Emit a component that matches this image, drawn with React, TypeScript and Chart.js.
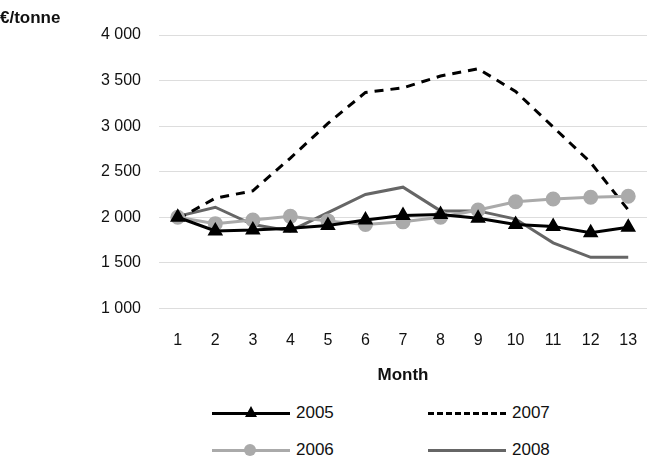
import React, { useRef, useEffect } from "react";
import { Chart, registerables } from "chart.js";

Chart.register(...registerables);

const months = ["1", "2", "3", "4", "5", "6", "7", "8", "9", "10", "11", "12", "13"];
const y2005 = [2000, 1850, 1860, 1880, 1910, 1970, 2020, 2030, 1990, 1920, 1900, 1830, 1890];
const y2006 = [2000, 1930, 1970, 2010, 1960, 1920, 1950, 2000, 2080, 2170, 2200, 2220, 2230];
const y2007 = [1980, 2210, 2290, 2650, 3030, 3370, 3420, 3550, 3630, 3380, 2990, 2600, 2080];
const y2008 = [2010, 2110, 1920, 1850, 2050, 2250, 2330, 2070, 2070, 1980, 1720, 1560, 1560];

const FONT = "'Liberation Sans', Arial, sans-serif";

const fmt = (v: number) => String(v).replace(/\B(?=(\d{3})+(?!\d))/g, " ");

const LegendItem: React.FC<{ left: number; top: number; label: string; color: string; dashed?: boolean; marker?: "tri" | "dot" }> = ({ left, top, label, color, dashed, marker }) => (
  <div style={{ position: "absolute", left, top, height: 20, width: 200 }}>
    <div
      style={{
        position: "absolute", left: 0, top: 9, width: 78, height: 0,
        borderTop: `3px ${dashed ? "dashed" : "solid"} ${color}`,
      }}
    />
    {marker === "dot" && (
      <div style={{ position: "absolute", left: 32, top: 4, width: 12, height: 12, borderRadius: 6, background: color }} />
    )}
    {marker === "tri" && (
      <div style={{ position: "absolute", left: 33, top: 3, width: 0, height: 0, borderLeft: "6px solid transparent", borderRight: "6px solid transparent", borderBottom: `11px solid ${color}` }} />
    )}
    <span style={{ position: "absolute", left: 84, top: 0, fontFamily: FONT, fontSize: 17, color: "#111" }}>{label}</span>
  </div>
);

export default function App() {
  const canvasRef = useRef<HTMLCanvasElement>(null);

  useEffect(() => {
    document.body.style.margin = "0";
    if (!canvasRef.current) return;
    const chart = new Chart(canvasRef.current, {
      type: "line",
      data: {
        labels: months,
        datasets: [
          { label: "2005", data: y2005, borderColor: "#000", backgroundColor: "#000", borderWidth: 3, pointStyle: "triangle", pointRadius: 6 },
          { label: "2006", data: y2006, borderColor: "#aaa", backgroundColor: "#aaa", borderWidth: 3, pointStyle: "circle", pointRadius: 6 },
          { label: "2007", data: y2007, borderColor: "#000", borderWidth: 3, borderDash: [9, 7], pointRadius: 0 },
          { label: "2008", data: y2008, borderColor: "#666", borderWidth: 3, pointRadius: 0 },
        ],
      },
      options: {
        animation: false,
        responsive: false,
        layout: { padding: { top: 35, right: 0 } },
        plugins: { legend: { display: false }, tooltip: { enabled: false } },
        scales: {
          x: {
            offset: true,
            grid: { display: false },
            border: { display: false },
            ticks: { color: "#111", font: { family: FONT, size: 16 }, padding: 15 },
            title: { display: true, text: "Month", color: "#111", font: { family: FONT, size: 17, weight: "bold" }, padding: { top: 0 } },
          },
          y: {
            min: 1000, max: 4000,
            afterFit: (s: any) => { s.width = 159; },
            grid: { color: "#ddd", drawTicks: false },
            border: { display: false },
            ticks: { stepSize: 500, color: "#111", padding: 18, font: { family: FONT, size: 16 }, callback: (v: any) => fmt(Number(v)) },
          },
        },
      },
    });
    return () => chart.destroy();
  }, []);

  return (
    <div style={{ position: "relative", width: 656, height: 466, background: "#fff" }}>
      <canvas ref={canvasRef} width={656} height={390} />
      <div style={{ position: "absolute", left: 0, top: 8, fontFamily: FONT, fontSize: 17, fontWeight: "bold", color: "#111" }}>€/tonne</div>
      <LegendItem left={212} top={403} label="2005" color="#000" marker="tri" />
      <LegendItem left={428} top={403} label="2007" color="#000" dashed />
      <LegendItem left={212} top={440} label="2006" color="#aaa" marker="dot" />
      <LegendItem left={428} top={440} label="2008" color="#666" />
    </div>
  );
}
